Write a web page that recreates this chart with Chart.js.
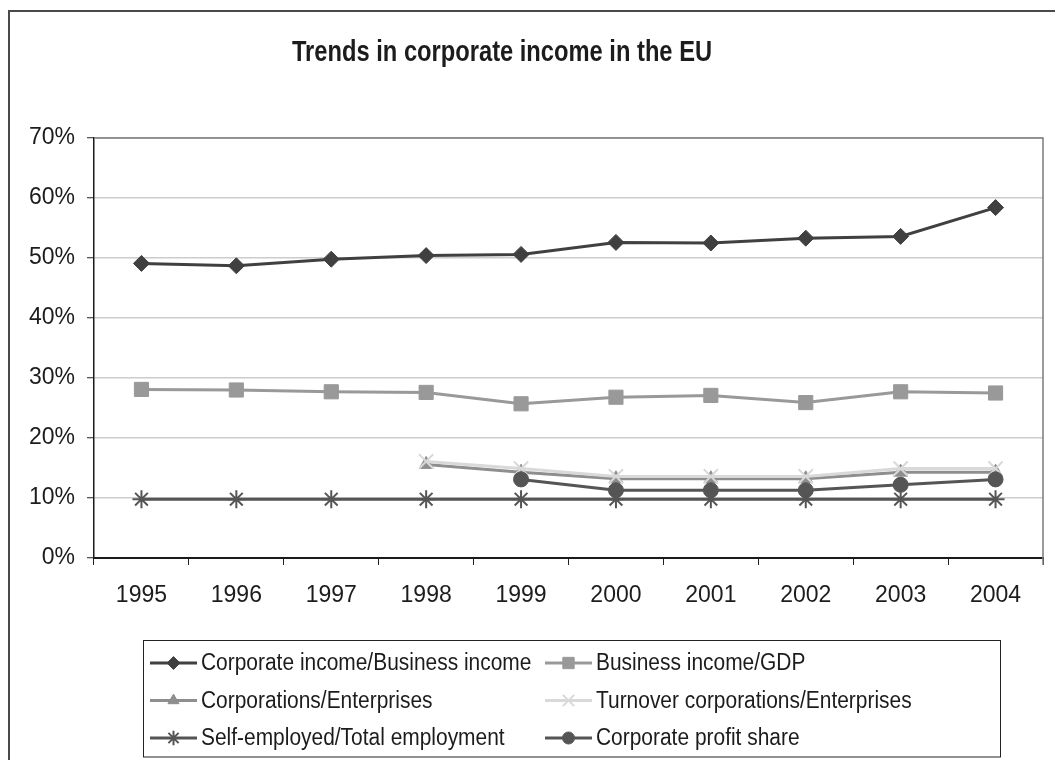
<!DOCTYPE html>
<html>
<head>
<meta charset="utf-8">
<title>Trends in corporate income in the EU</title>
<script src="https://cdn.jsdelivr.net/npm/chart.js"></script>
<style>
  html, body { margin: 0; padding: 0; background: #fff; }
  #chart { display: block; }
</style>
</head>
<body>
<canvas id="chart" width="1055" height="760"></canvas>
<script>
// Years on the category axis
const years = ['1995', '1996', '1997', '1998', '1999', '2000', '2001', '2002', '2003', '2004'];

// Shares in percent, null where no figure exists
const corporateIncomeShare = [49.1, 48.7, 49.8, 50.4, 50.6, 52.6, 52.5, 53.3, 53.6, 58.4];
const businessIncomeGdp    = [28.1, 28.0, 27.7, 27.6, 25.7, 26.8, 27.1, 25.9, 27.7, 27.5];
const corporationsShare    = [null, null, null, 15.6, 14.3, 13.2, 13.2, 13.2, 14.3, 14.3];
const turnoverShare        = [null, null, null, 16.1, 14.9, 13.6, 13.6, 13.6, 14.9, 14.9];
const selfEmployedShare    = [9.8, 9.8, 9.8, 9.8, 9.8, 9.8, 9.8, 9.8, 9.8, 9.8];
const profitShare          = [null, null, null, null, 13.1, 11.3, 11.3, 11.3, 12.2, 13.1];

// Value axis: 0% .. 70% in steps of 10
const yMin = 0;
const yMax = 70;
const yStep = 10;

const chartTitle = 'Trends in corporate income in the EU';

const seriesLabels = [
  'Corporate income/Business income',
  'Business income/GDP',
  'Corporations/Enterprises',
  'Turnover corporations/Enterprises',
  'Self-employed/Total employment',
  'Corporate profit share'
];
const seriesData = [corporateIncomeShare, businessIncomeGdp, corporationsShare, turnoverShare, selfEmployedShare, profitShare];

// Look of each line: colour, marker and marker size
const seriesStyle = [
  { color: '#404040', point: 'rectRot',  radius: 8,   pointWidth: 1 },
  { color: '#999999', point: 'rect',     radius: 10,  pointWidth: 1 },
  { color: '#8e8e8e', point: 'triangle', radius: 8,   pointWidth: 1 },
  { color: '#d9d9d9', point: 'crossRot', radius: 10,  pointWidth: 2 },
  { color: '#555555', point: 'star',     radius: 9,   pointWidth: 2 },
  { color: '#555555', point: 'circle',   radius: 7.5, pointWidth: 1 }
];

const FONT = "'Liberation Sans', Arial, sans-serif";
const TEXT_COLOR = '#1c1c1c';

const datasets = seriesLabels.map((label, i) => ({
  label,
  data: seriesData[i],
  borderColor: seriesStyle[i].color,
  backgroundColor: seriesStyle[i].color,
  borderWidth: 3,
  pointStyle: seriesStyle[i].point,
  pointRadius: seriesStyle[i].radius,
  pointBorderWidth: seriesStyle[i].pointWidth,
  pointBackgroundColor: seriesStyle[i].color,
  pointBorderColor: seriesStyle[i].color,
  tension: 0,
  spanGaps: false,
  // later series sit on top of earlier ones
  order: seriesLabels.length - i
}));

// Text squeezed horizontally, standing in for a condensed face
function squeezedText(ctx, text, x, y, font, squeeze, align) {
  ctx.save();
  ctx.translate(x, y);
  ctx.scale(squeeze, 1);
  ctx.fillStyle = TEXT_COLOR;
  ctx.font = font;
  ctx.textAlign = align;
  ctx.textBaseline = 'middle';
  ctx.fillText(text, 0, 0);
  ctx.restore();
}

// White page, outer frame, bold title and the grey top/right edge of the plot
const framePlugin = {
  id: 'frame',
  beforeDraw(chart) {
    const ctx = chart.ctx;
    ctx.save();
    ctx.fillStyle = '#ffffff';
    ctx.fillRect(0, 0, chart.width, chart.height);
    ctx.strokeStyle = '#4a4a4a';
    ctx.lineWidth = 2;
    ctx.strokeRect(9, 11, chart.width + 20, chart.height + 20);
    ctx.restore();

    squeezedText(ctx, chartTitle, 502, 53, 'bold 30px ' + FONT, 0.79, 'center');
  },
  beforeDatasetsDraw(chart) {
    const { ctx, chartArea: a } = chart;
    ctx.save();
    ctx.strokeStyle = '#7c7c7c';
    ctx.lineWidth = 1.5;
    ctx.beginPath();
    ctx.moveTo(a.left, a.top);
    ctx.lineTo(a.right, a.top);
    ctx.lineTo(a.right, a.bottom + 7);
    ctx.stroke();
    ctx.restore();
  }
};

// Boxed two-column legend under the axis
const boxedLegend = {
  id: 'boxedLegend',
  afterDraw(chart) {
    const ctx = chart.ctx;
    const box = { left: 143.5, top: 640.5, right: 1000.5, bottom: 757 };
    const colX = [150, 545];
    const rowY = [663, 700.5, 738];
    const lineLen = 47;

    ctx.save();
    ctx.strokeStyle = '#222';
    ctx.lineWidth = 1;
    ctx.strokeRect(box.left, box.top, box.right - box.left, box.bottom - box.top);

    chart.data.datasets.forEach((ds, i) => {
      const x = colX[i % 2];
      const y = rowY[Math.floor(i / 2)];

      ctx.strokeStyle = ds.borderColor;
      ctx.lineWidth = ds.borderWidth;
      ctx.beginPath();
      ctx.moveTo(x, y);
      ctx.lineTo(x + lineLen, y);
      ctx.stroke();

      ctx.fillStyle = ds.pointBackgroundColor;
      ctx.strokeStyle = ds.pointBorderColor;
      ctx.lineWidth = ds.pointBorderWidth;
      Chart.helpers.drawPoint(ctx, {
        pointStyle: ds.pointStyle,
        radius: ds.pointRadius * 0.8,
        rotation: 0,
        borderWidth: ds.pointBorderWidth
      }, x + lineLen / 2, y);

      squeezedText(ctx, ds.label, x + lineLen + 4, y + 1, '23px ' + FONT, 0.91, 'left');
    });
    ctx.restore();
  }
};

new Chart(document.getElementById('chart'), {
  type: 'line',
  data: { labels: years, datasets },
  options: {
    responsive: false,
    animation: false,
    devicePixelRatio: 1,
    layout: { padding: { left: 10, right: 5, top: 138, bottom: 140 } },
    plugins: {
      legend: { display: false },
      tooltip: { enabled: false },
      title: { display: false }
    },
    scales: {
      x: {
        type: 'category',
        offset: true,
        grid: {
          offset: true,
          drawOnChartArea: false,
          drawTicks: true,
          tickLength: 7,
          tickColor: '#222',
          tickWidth: 1
        },
        border: { color: '#1a1a1a', width: 2 },
        ticks: {
          color: TEXT_COLOR,
          font: { family: FONT, size: 23 },
          padding: 17,
          maxRotation: 0,
          autoSkip: false
        },
        afterFit(scale) { scale.height = 62; }
      },
      y: {
        min: yMin,
        max: yMax,
        ticks: {
          stepSize: yStep,
          color: TEXT_COLOR,
          font: { family: FONT, size: 23 },
          padding: 12,
          callback: v => v + '%'
        },
        grid: {
          color: '#cccccc',
          lineWidth: 1.5,
          drawTicks: true,
          tickLength: 7,
          tickColor: '#222',
          tickWidth: 1
        },
        border: { color: '#1a1a1a', width: 1.5 },
        afterFit(scale) { scale.width = 84; }
      }
    }
  },
  plugins: [framePlugin, boxedLegend]
});
</script>
</body>
</html>
